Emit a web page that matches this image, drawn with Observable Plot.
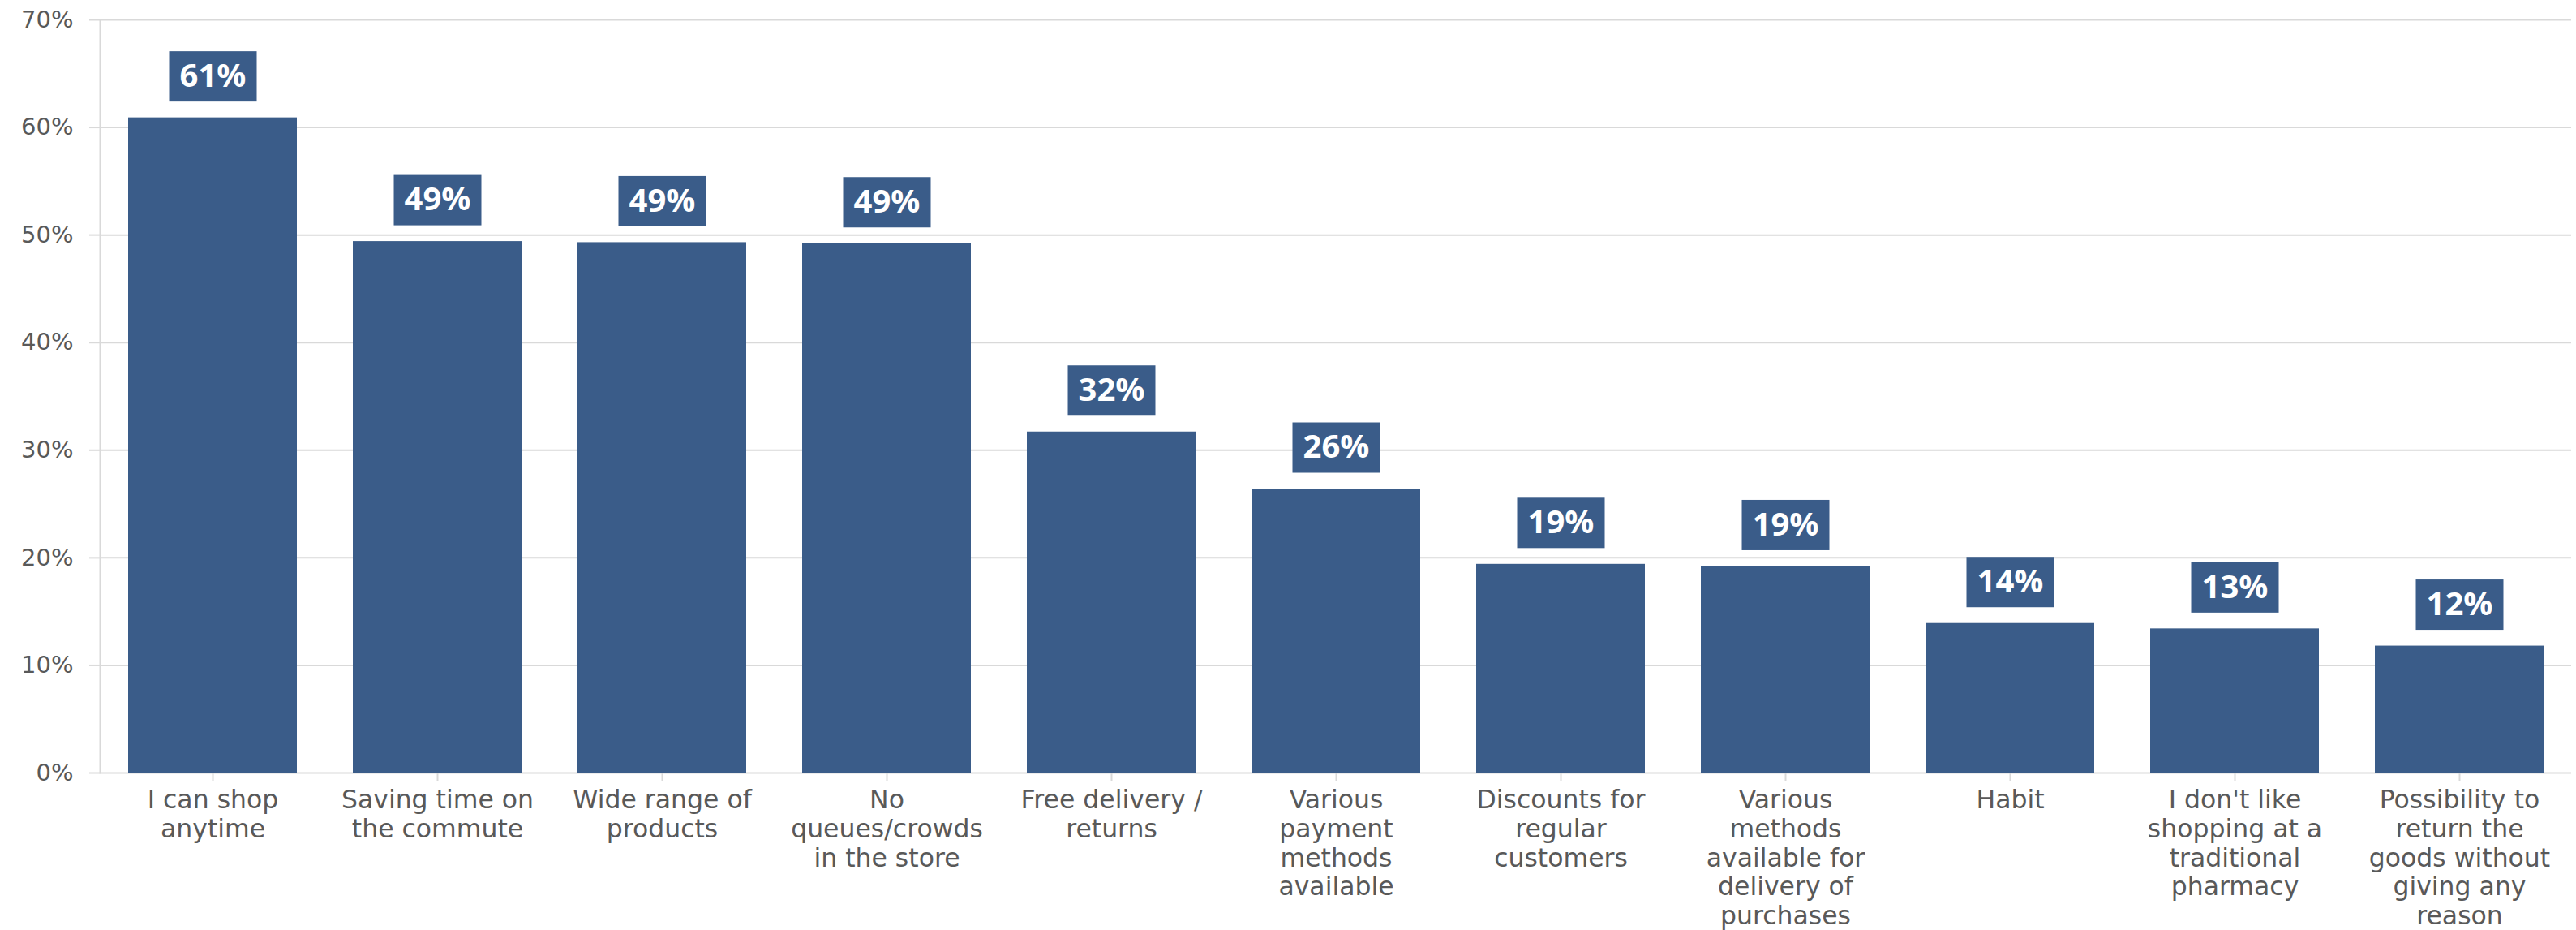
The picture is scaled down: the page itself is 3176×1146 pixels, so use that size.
<!DOCTYPE html>
<html>
<head>
<meta charset="utf-8">
<script src="https://cdn.jsdelivr.net/npm/d3@7"></script>
<script src="https://cdn.jsdelivr.net/npm/@observablehq/plot@0.6"></script>
<style>
  html, body { margin: 0; padding: 0; background: #fff; }
  #chart svg { display: block; }
</style>
</head>
<body>
<div id="chart"></div>
<script>
const categories = [
  "I can shop\nanytime",
  "Saving time on\nthe commute",
  "Wide range of\nproducts",
  "No\nqueues/crowds\nin the store",
  "Free delivery /\nreturns",
  "Various\npayment\nmethods\navailable",
  "Discounts for\nregular\ncustomers",
  "Various\nmethods\navailable for\ndelivery of\npurchases",
  "Habit",
  "I don't like\nshopping at a\ntraditional\npharmacy",
  "Possibility to\nreturn the\ngoods without\ngiving any\nreason"
];
const values = [60.9, 49.4, 49.3, 49.2, 31.7, 26.4, 19.4, 19.2, 13.9, 13.4, 11.8];
const yTicks = [0, 10, 20, 30, 40, 50, 60, 70];

const data = categories.map((c, i) => ({cat: c, value: values[i]}));

const barColor = "#3a5c89";
const gridColor = "#d9d9d9";
const textColor = "#595959";

const labelMark = Plot.text(data, {
  x: "cat",
  y: "value",
  text: d => Math.round(d.value) + "%",
  dy: -51,
  fill: "white",
  fontFamily: "Open Sans",
  fontWeight: 700,
  fontSize: 40,
  render(index, scales, vals, dimensions, context, next) {
    const g = next(index, scales, vals, dimensions, context);
    const ns = "http://www.w3.org/2000/svg";
    const first = g.firstChild;
    for (const i of index) {
      const r = document.createElementNS(ns, "rect");
      r.setAttribute("x", vals.x[i] - 54);
      r.setAttribute("y", vals.y[i] - 31);
      r.setAttribute("width", 108);
      r.setAttribute("height", 62);
      r.setAttribute("fill", barColor);
      g.insertBefore(r, first);
    }
    return g;
  }
});

const chart = Plot.plot({
  width: 3176,
  height: 1146,
  marginLeft: 123,
  marginRight: 6,
  marginTop: 24,
  marginBottom: 194,
  style: {background: "white", color: textColor},
  x: {domain: categories, paddingInner: 0.25, paddingOuter: 0.125, label: null},
  y: {domain: [0, 70], label: null},
  marks: [
    Plot.gridY(yTicks, {stroke: gridColor, strokeOpacity: 1, strokeWidth: 2}),
    Plot.frame({anchor: "left", stroke: gridColor, strokeWidth: 2}),
    Plot.axisY(yTicks, {
      tickSize: 13,
      tickPadding: 20,
      stroke: gridColor,
      strokeWidth: 2,
      tickFormat: d => d + "%",
      fontFamily: "DejaVu Sans",
      fontSize: 29,
      fill: textColor,
      label: null
    }),
    Plot.axisX({
      tickSize: 11,
      tickPadding: 7,
      stroke: gridColor,
      strokeWidth: 2,
      fontFamily: "DejaVu Sans",
      fontSize: 31.5,
      lineHeight: 1.137,
      fill: textColor,
      label: null
    }),
    Plot.barY(data, {x: "cat", y: "value", fill: barColor}),
    labelMark
  ]
});
document.getElementById("chart").appendChild(chart);
</script>
</body>
</html>
